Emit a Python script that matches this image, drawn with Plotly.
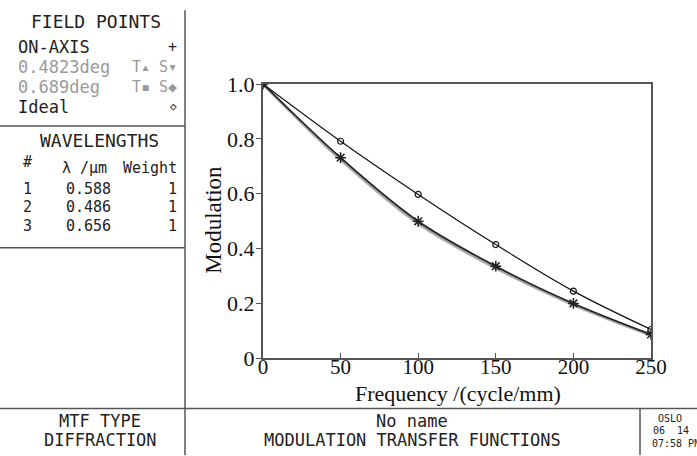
import plotly.graph_objects as go

# ---------------- data ----------------
freq = [0, 50, 100, 150, 200, 250]
ideal = [1.0, 0.791, 0.597, 0.414, 0.244, 0.104]
on_axis = [1.0, 0.731, 0.499, 0.335, 0.199, 0.086]
field_0482 = [1.0, 0.727, 0.494, 0.331, 0.196, 0.084]
field_0689 = [1.0, 0.724, 0.491, 0.328, 0.194, 0.083]

x_ticks = [0, 50, 100, 150, 200, 250]
y_ticks = [0, 0.2, 0.4, 0.6, 0.8, 1.0]
y_tick_labels = ["0", "0.2", "0.4", "0.6", "0.8", "1.0"]

wl_index = ["1", "2", "3"]
wl_values = ["0.588", "0.486", "0.656"]
wl_weights = ["1", "1", "1"]

# ---------------- layout geometry ----------------
W, H = 697, 456
L, R, T, B = 263, 651, 84, 358.5


def px(x):
    return (x - L) / (R - L)


def py(y):
    return (B - y) / (B - T)


MONO = "DejaVu Sans Mono"
SERIF = "Liberation Serif"
GRAY = "#9a9a9a"
LINE = "#555555"

fig = go.Figure()

fig.add_trace(go.Scatter(x=freq, y=field_0689, mode="lines", line=dict(color="#b5b5b5", width=3, shape="spline"),
                         showlegend=False, hoverinfo="skip"))
fig.add_trace(go.Scatter(x=freq, y=field_0482, mode="lines", line=dict(color="#9a9a9a", width=2, shape="spline"),
                         showlegend=False, hoverinfo="skip"))
fig.add_trace(go.Scatter(x=freq, y=ideal, mode="lines+markers",
                         line=dict(color="#111111", width=1.2, shape="spline"),
                         marker=dict(symbol="circle-open", size=6, color="#111111", line=dict(width=1.2)),
                         showlegend=False))
fig.add_trace(go.Scatter(x=freq, y=on_axis, mode="lines+markers",
                         line=dict(color="#222222", width=1.6, shape="spline"),
                         marker=dict(symbol="asterisk-open", size=9, color="#222222", line=dict(width=1.5)),
                         showlegend=False))

fig.update_xaxes(range=[0, 250], tickvals=x_ticks, ticks="inside", ticklen=5, tickcolor=LINE,
                 showline=True, linecolor=LINE, linewidth=2, mirror=True, showgrid=False, zeroline=False,
                 ticklabelstandoff=-11,
                 tickfont=dict(family=SERIF, size=21, color="#111111"))
fig.update_yaxes(range=[0, 1.0], tickvals=y_ticks, ticktext=y_tick_labels, ticks="outside", ticklen=5,
                 tickcolor=LINE, showline=True, linecolor=LINE, linewidth=2, mirror=True, showgrid=False,
                 zeroline=False, ticklabelstandoff=-3,
                 tickfont=dict(family=SERIF, size=22, color="#111111"))

shapes = []


def hline(x0, x1, y):
    shapes.append(dict(type="line", xref="paper", yref="paper", x0=px(x0), x1=px(x1), y0=py(y), y1=py(y),
                       line=dict(color=LINE, width=1.5)))


def vline(x, y0, y1):
    shapes.append(dict(type="line", xref="paper", yref="paper", x0=px(x), x1=px(x), y0=py(y0), y1=py(y1),
                       line=dict(color=LINE, width=1.5)))


vline(185, 10, 456)
hline(0, 185, 126)
hline(0, 185, 248)
hline(0, 697, 409)
vline(640, 409, 456)

ann = []


def text(x, y, s, anchor="left", size=16, color="#222222", family=MONO, angle=0):
    ann.append(dict(x=px(x), y=py(y), xref="paper", yref="paper", text=s, showarrow=False, textangle=angle,
                    xanchor=anchor, yanchor="middle", font=dict(family=family, size=size, color=color)))


# axis titles
text(458, 394, "Frequency /(cycle/mm)", "center", 22, "#111111", SERIF)
text(214, 220, "Modulation", "center", 23, "#111111", SERIF, -90)

text(96, 21, "FIELD POINTS", "center", 18)
text(16, 47, "ON-AXIS", "left", 17)
text(179, 47, "+", "right", 15)
text(16, 67, "0.4823deg", "left", 17, GRAY)
text(179, 67, "T▴ S▾", "right", 15, GRAY)
text(16, 87, "0.689deg", "left", 17, GRAY)
text(179, 87, "T▪ S◆", "right", 15, GRAY)
text(16, 107, "Ideal", "left", 17)
text(179, 107, "◇", "right", 11)

text(99, 141, "WAVELENGTHS", "center", 18)
text(27, 162, "#", "center", 15)
text(84, 168, "λ /μm", "center", 15)
text(179, 168, "Weight", "right", 15)
for i, (n, v, w) in enumerate(zip(wl_index, wl_values, wl_weights)):
    y = 189 + i * 18.5
    text(27, y, n, "center", 15)
    text(88, y, v, "center", 15)
    text(179, y, w, "right", 15)

text(100, 422, "MTF TYPE", "center", 17)
text(100, 441, "DIFFRACTION", "center", 17)
text(412, 422, "No name", "center", 17)
text(412, 441, "MODULATION TRANSFER FUNCTIONS", "center", 17)
text(670, 419, "OSLO", "center", 10)
text(671, 431, "06  14", "center", 10)
text(676, 444, "07:58 PM", "center", 10)

fig.update_layout(width=W, height=H, margin=dict(l=L, r=W - R, t=T, b=H - B),
                  plot_bgcolor="white", paper_bgcolor="white", shapes=shapes, annotations=ann,
                  showlegend=False)

fig.write_html("out.html", config={"displayModeBar": False},
               post_script="document.body.style.margin='0';document.body.style.overflow='hidden';")
